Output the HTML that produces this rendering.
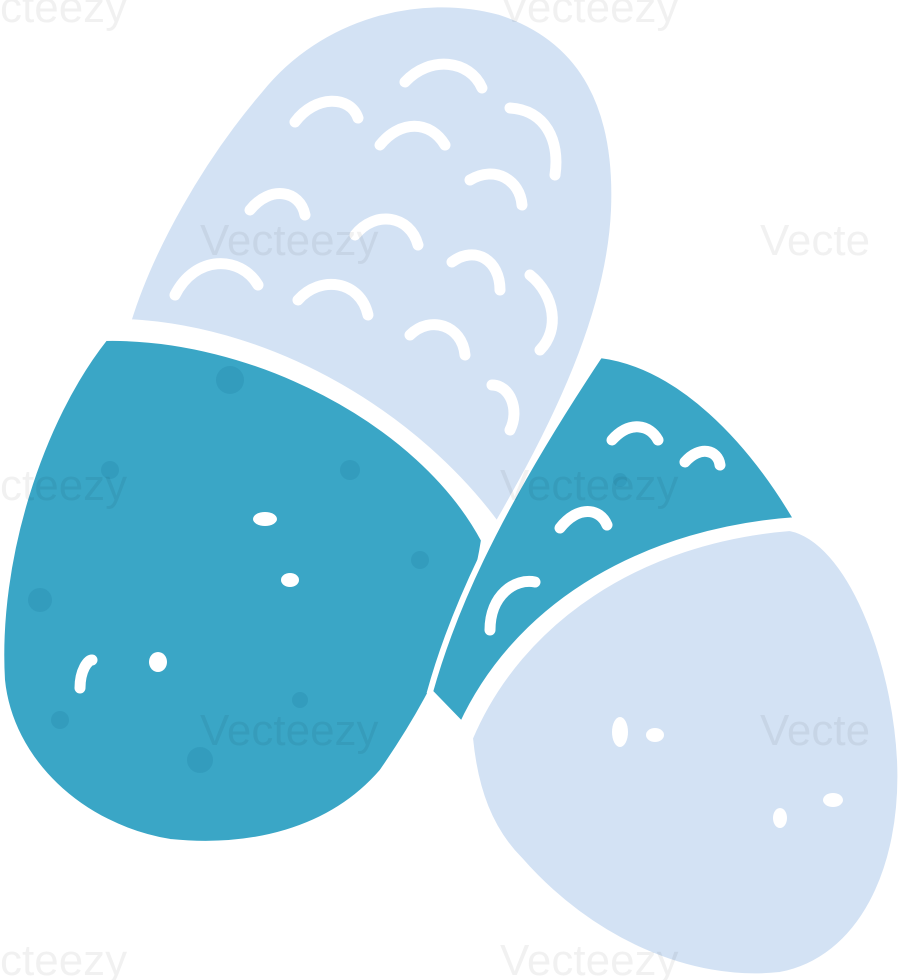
<!DOCTYPE html>
<html><head><meta charset="utf-8"><style>
html,body{margin:0;padding:0;background:#fff;width:905px;height:980px;overflow:hidden}
svg{display:block}
.wm{font-family:"Liberation Sans",sans-serif;font-size:44px;fill:#000;opacity:0.05}
</style></head><body>
<svg width="905" height="980" viewBox="0 0 905 980">
  <path d="M128,322 C150,250 200,160 260,90 C320,15 420,-10 500,12 C585,40 618,110 614,210 C610,300 570,400 497,525 C420,420 280,330 128,322 Z" fill="#d3e2f4" stroke="#fff" stroke-width="6"/>
  <path d="M105,338 C250,335 420,420 484,540 C472,620 432,700 382,772 C330,832 250,850 170,842 C80,827 10,760 2,680 C-5,560 40,420 105,338 Z" fill="#3aa6c6" stroke="#fff" stroke-width="6"/>
  <path d="M600,355 C680,365 750,440 797,520 C650,530 520,600 462,725 L430,692 C450,620 490,520 600,355 Z" fill="#3aa6c6" stroke="#fff" stroke-width="6"/>
  <path d="M470,738 C520,620 640,540 790,528 C850,540 895,660 900,760 C905,870 860,960 780,975 C690,985 590,940 520,860 C490,830 475,790 470,738 Z" fill="#d3e2f4" stroke="#fff" stroke-width="6"/>
  <g fill="none" stroke="#fff" stroke-width="11" stroke-linecap="round">
    <path d="M405,82 C430,55 470,60 482,88"/>
    <path d="M295,122 C315,95 350,95 358,118"/>
    <path d="M380,145 C400,120 430,120 445,145"/>
    <path d="M510,108 C545,110 560,140 555,175"/>
    <path d="M250,210 C270,185 300,190 305,215"/>
    <path d="M470,180 C495,165 520,180 522,205"/>
    <path d="M355,235 C375,210 410,215 418,245"/>
    <path d="M175,295 C195,255 240,255 258,285"/>
    <path d="M452,262 C475,245 500,260 500,290"/>
    <path d="M298,300 C320,275 360,280 368,315"/>
    <path d="M410,335 C430,315 462,325 465,355"/>
    <path d="M530,275 C555,295 560,330 540,350"/>
    <path d="M492,385 C510,385 520,410 510,430"/>
    <path d="M612,440 C630,420 650,425 658,440"/>
    <path d="M685,462 C700,445 718,450 720,465"/>
    <path d="M560,528 C578,505 600,508 607,525"/>
    <path d="M490,630 C490,595 515,578 535,582"/>
    <path d="M80,688 C80,670 88,660 92,660"/>
  </g>
  <g fill="#fff">
    <ellipse cx="265" cy="519" rx="12" ry="7"/>
    <ellipse cx="290" cy="580" rx="9" ry="7"/>
    <ellipse cx="158" cy="662" rx="9" ry="10"/>
    <ellipse cx="620" cy="732" rx="8" ry="15"/>
    <ellipse cx="655" cy="735" rx="9" ry="7"/>
    <ellipse cx="833" cy="800" rx="10" ry="7"/>
    <ellipse cx="780" cy="818" rx="7" ry="10"/>
  </g>
  <g fill="#2f96b8" opacity="0.6">
    <circle cx="40" cy="600" r="12"/><circle cx="230" cy="380" r="14"/><circle cx="110" cy="470" r="9"/>
    <circle cx="350" cy="470" r="10"/><circle cx="200" cy="760" r="13"/><circle cx="60" cy="720" r="9"/>
    <circle cx="300" cy="700" r="8"/><circle cx="420" cy="560" r="9"/><circle cx="620" cy="480" r="7"/>
  </g>
  <g>
    <text class="wm" x="0" y="22">cteezy</text>
    <text class="wm" x="500" y="22">Vecteezy</text>
    <text class="wm" x="200" y="255">Vecteezy</text>
    <text class="wm" x="760" y="255">Vecte</text>
    <text class="wm" x="0" y="500">cteezy</text>
    <text class="wm" x="500" y="500">Vecteezy</text>
    <text class="wm" x="200" y="745">Vecteezy</text>
    <text class="wm" x="760" y="745">Vecte</text>
    <text class="wm" x="0" y="975">cteezy</text>
    <text class="wm" x="500" y="975">Vecteezy</text>
  </g>
</svg>
</body></html>
